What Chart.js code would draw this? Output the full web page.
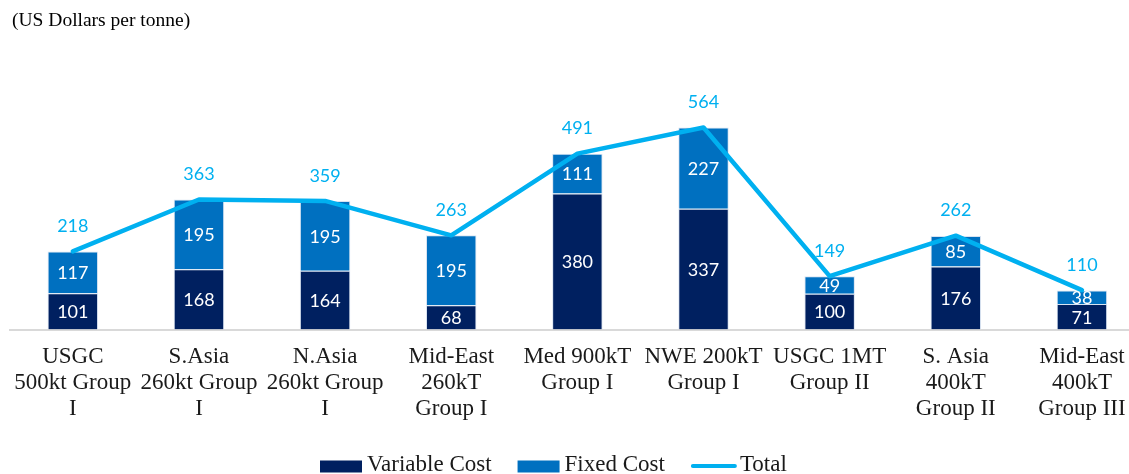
<!DOCTYPE html>
<html>
<head>
<meta charset="utf-8">
<script src="https://cdn.jsdelivr.net/npm/chart.js@4/dist/chart.umd.min.js"></script>
<style>
html,body{margin:0;padding:0;background:#fff;overflow:hidden;width:1129px;height:474px;}
canvas{display:block;}
</style>
</head>
<body>
<canvas id="c" width="1145" height="474"></canvas>
<script>
const categories = [
  ["USGC","500kt Group","I"],
  ["S.Asia","260kt Group","I"],
  ["N.Asia","260kt Group","I"],
  ["Mid-East","260kT","Group I"],
  ["Med 900kT","Group I"],
  ["NWE 200kT","Group I"],
  ["USGC 1MT","Group II"],
  ["S. Asia","400kT","Group II"],
  ["Mid-East","400kT","Group III"]
];
const variableCost = [101,168,164,68,380,337,100,176,71];
const fixedCost    = [117,195,195,195,111,227,49,85,38];
const totalCost    = [218,363,359,263,491,564,149,262,110];
const seriesNames  = ["Variable Cost","Fixed Cost","Total"];
const unitTitle    = "(US Dollars per tonne)";

const NAVY = '#002060', BLUE = '#0070C0', CYAN = '#00B0F0';
const SERIF = '"Liberation Serif", "Times New Roman", serif';

const extras = {
  id: 'extras',
  afterDatasetsDraw(chart) {
    const ctx = chart.ctx;
    ctx.save();
    ctx.font = '18px Lato';
    ctx.textAlign = 'center';
    ctx.textBaseline = 'middle';
    [0,1].forEach(di => {
      const meta = chart.getDatasetMeta(di);
      meta.data.forEach((bar, i) => {
        const p = bar.getProps(['x','y','base'], true);
        ctx.fillStyle = '#ffffff';
        ctx.fillText(String(chart.data.datasets[di].data[i]), p.x, (p.y + p.base) / 2 + 1);
      });
    });
    const lm = chart.getDatasetMeta(2);
    lm.data.forEach((pt, i) => {
      ctx.fillStyle = CYAN;
      ctx.fillText(String(totalCost[i]), pt.x, pt.y - 25);
    });
    ctx.restore();
  },
  afterDraw(chart) {
    const ctx = chart.ctx;
    ctx.save();
    ctx.font = '19.5px ' + SERIF;
    ctx.fillStyle = '#000';
    ctx.textAlign = 'left';
    ctx.textBaseline = 'middle';
    ctx.fillText(unitTitle, 12, 21);
    ctx.font = '23px ' + SERIF;
    let x = 320;
    const cy = 465;
    const swatches = [NAVY, BLUE, CYAN];
    seriesNames.forEach((name, i) => {
      if (i < 2) {
        ctx.fillStyle = swatches[i];
        ctx.fillRect(x, cy - 4.5, 42, 12);
        x += 42 + 5;
      } else {
        ctx.strokeStyle = CYAN;
        ctx.lineWidth = 4;
        ctx.lineCap = 'round';
        ctx.beginPath();
        ctx.moveTo(x + 2, cy + 1);
        ctx.lineTo(x + 44, cy + 1);
        ctx.stroke();
        x += 46 + 3;
      }
      ctx.fillStyle = '#1a1a1a';
      ctx.fillText(name, x, cy);
      x += ctx.measureText(name).width + 26;
    });
    ctx.restore();
  }
};

new Chart(document.getElementById('c'), {
  data: {
    labels: categories,
    datasets: [
      { type: 'bar', label: seriesNames[0], data: variableCost, backgroundColor: NAVY,
        borderColor: 'rgba(200,215,235,0.7)', borderWidth: 1, stack: 'cost', order: 1 },
      { type: 'bar', label: seriesNames[1], data: fixedCost, backgroundColor: BLUE,
        borderColor: 'rgba(200,215,235,0.7)', borderWidth: 1, stack: 'cost', order: 1 },
      { type: 'line', label: seriesNames[2], data: totalCost, borderColor: CYAN, borderWidth: 4.5,
        pointRadius: 0, tension: 0, fill: false, stack: 'total', order: 0,
        borderCapStyle: 'round', borderJoinStyle: 'round' }
    ]
  },
  options: {
    responsive: false,
    animation: false,
    devicePixelRatio: 1,
    layout: { padding: { left: 6.5, right: 0, top: 43, bottom: 0 } },
    datasets: { bar: { barPercentage: 0.4, categoryPercentage: 1 } },
    plugins: { legend: { display: false }, tooltip: { enabled: false }, title: { display: false } },
    scales: {
      x: {
        stacked: true,
        grid: { display: false, drawTicks: false },
        border: { display: true, color: '#d9d9d9', width: 2 },
        ticks: { color: '#1a1a1a', font: { family: SERIF, size: 23, lineHeight: 1.145 }, padding: 14, maxRotation: 0, autoSkip: false },
        afterFit(s) { s.height = 144.5; }
      },
      y: {
        display: false,
        stacked: true,
        min: 0,
        max: 800
      }
    }
  },
  plugins: [extras]
});
</script>
</body>
</html>
